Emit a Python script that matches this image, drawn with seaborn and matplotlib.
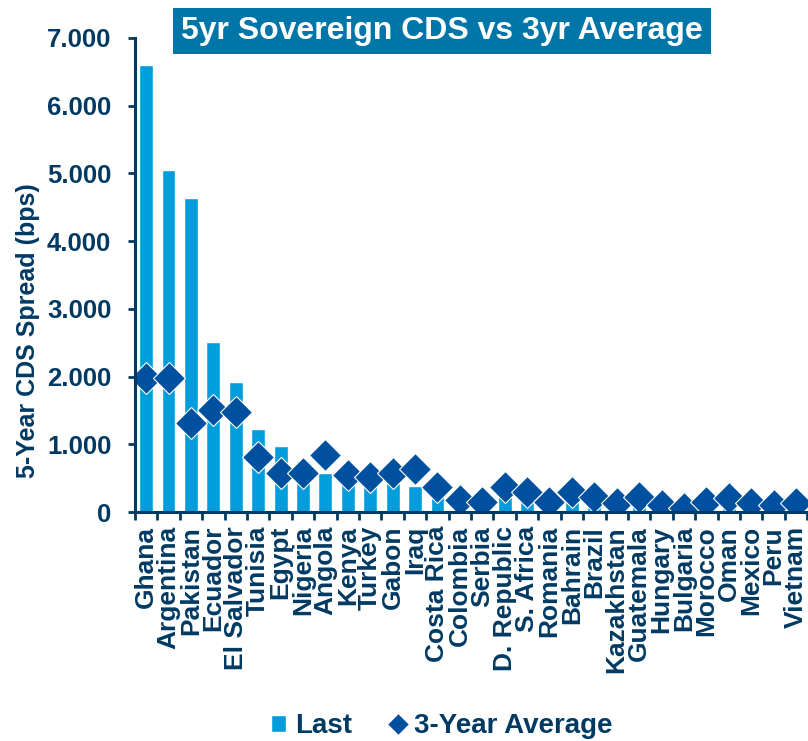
import matplotlib
matplotlib.use("Agg")
import matplotlib.pyplot as plt
from matplotlib.ticker import FuncFormatter, FixedLocator
import seaborn as sns
import pandas as pd

# ---------------------------
# Data
# ---------------------------
countries = [
    "Ghana", "Argentina", "Pakistan", "Ecuador", "El Salvador", "Tunisia",
    "Egypt", "Nigeria", "Angola", "Kenya", "Turkey", "Gabon", "Iraq",
    "Costa Rica", "Colombia", "Serbia", "D. Republic", "S. Africa", "Romania",
    "Bahrain", "Brazil", "Kazakhstan", "Guatemala", "Hungary", "Bulgaria",
    "Morocco", "Oman", "Mexico", "Peru", "Vietnam",
]
last = [
    6600, 5050, 4630, 2510, 1915, 1225, 975, 760, 580, 520, 470, 430, 385,
    235, 230, 228, 225, 215, 205, 200, 190, 175, 165, 150, 135, 125, 120,
    110, 95, 90,
]
avg_3y = [
    1975, 1975, 1320, 1505, 1480, 807, 580, 580, 842, 547, 513, 580, 630,
    370, 177, 152, 375, 290, 152, 300, 226, 128, 226, 103, 55, 152, 202,
    128, 103, 128,
]

NAVY = "#003A63"
BAR_BLUE = "#009DDC"
DIAMOND = "#0050A0"
TITLE_BG = "#0076A8"

df = pd.DataFrame({"country": countries, "Last": last, "Avg": avg_3y})

sns.set_style("white")
plt.rcParams["font.family"] = ["Liberation Sans", "DejaVu Sans"]
plt.rcParams["font.weight"] = "bold"

fig = plt.figure(figsize=(8.08, 7.41), dpi=100)
ax = fig.add_axes([0.167, 0.309, 0.832, 0.640])

sns.barplot(data=df, x="country", y="Last", color=BAR_BLUE, width=0.62,
            saturation=1, label="Last", ax=ax)
sns.pointplot(data=df, x="country", y="Avg", color=DIAMOND, linestyle="none",
              marker="D", markersize=16, markeredgecolor="white",
              markeredgewidth=0.8, label="3-Year Average", ax=ax)

ax.set_xlim(-0.5, len(countries) - 0.5)
ax.set_ylim(0, 7000)
ax.set_yticks(range(0, 7001, 1000))
ax.yaxis.set_major_formatter(FuncFormatter(lambda v, p: f"{int(v):,}".replace(",", ".")))

# category labels centred, tick marks on boundaries
ax.set_xticks(range(len(countries)))
ax.set_xticklabels(countries, rotation=90)
ax.xaxis.set_minor_locator(FixedLocator([i + 0.5 for i in range(-1, len(countries))]))
ax.tick_params(axis="x", which="major", length=0, pad=10, labelsize=19, labelcolor=NAVY)
ax.tick_params(axis="x", which="minor", length=6, width=2, color=NAVY, direction="out", bottom=True)
ax.tick_params(axis="y", length=5, width=2, color=NAVY, direction="out", left=True,
               labelsize=18.5, labelcolor=NAVY, pad=12)
for lab in ax.get_xticklabels() + ax.get_yticklabels():
    lab.set_fontweight("bold")

ax.set_xlabel("")
ax.set_ylabel("5-Year CDS Spread (bps)", fontsize=18, fontweight="bold", color=NAVY)
ax.yaxis.set_label_coords(-0.141, 0.382)

for side in ["top", "right"]:
    ax.spines[side].set_visible(False)
for side in ["left", "bottom"]:
    ax.spines[side].set_color(NAVY)
    ax.spines[side].set_linewidth(2.2)

# title box
fig.text(0.547, 0.958, "5yr Sovereign CDS vs 3yr Average", ha="center", va="center",
         fontsize=23, fontweight="bold", color="white",
         bbox=dict(boxstyle="square,pad=0.25", facecolor=TITLE_BG, edgecolor="none"))

# legend at the bottom: Last first, then the diamonds
handles, labels = ax.get_legend_handles_labels()
if ax.legend_:
    ax.legend_.remove()
order = [labels.index("Last"), labels.index("3-Year Average")]
leg = fig.legend([handles[i] for i in order], [labels[i] for i in order],
                 loc="center", bbox_to_anchor=(0.547, 0.02), ncol=2,
                 frameon=False, handlelength=0.55, handleheight=0.55,
                 handletextpad=0.3, columnspacing=1.4,
                 prop={"weight": "bold", "size": 20})
for t in leg.get_texts():
    t.set_color(NAVY)
for h in leg.legend_handles:
    if hasattr(h, "set_markersize"):
        h.set_markersize(11)

fig.savefig("out.png", dpi=100)
